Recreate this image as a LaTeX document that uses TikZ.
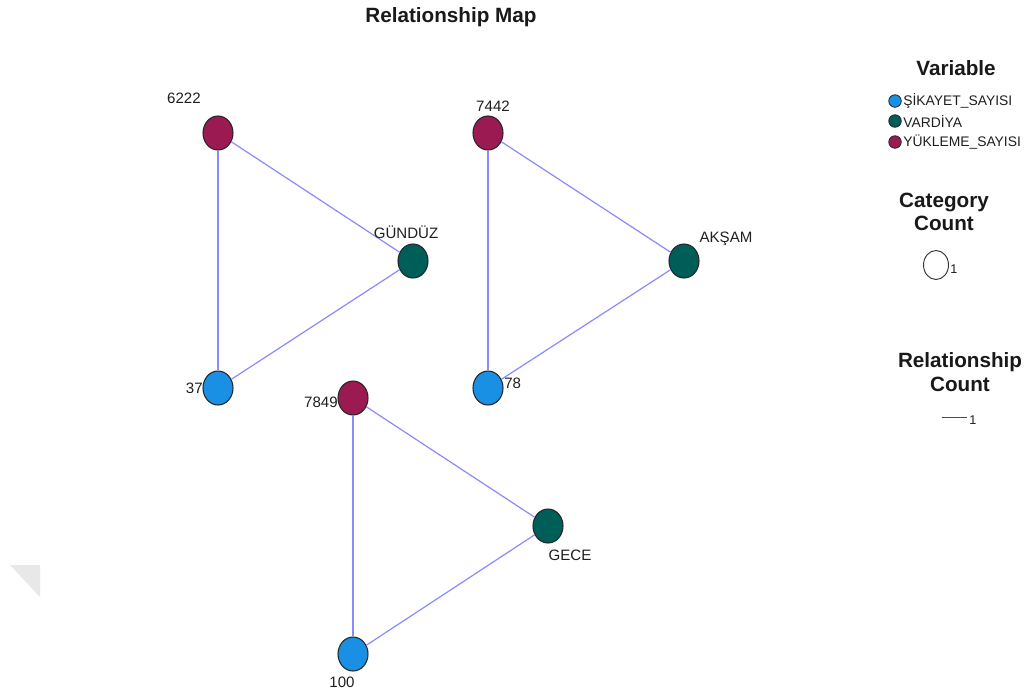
\documentclass[tikz,border=0pt]{standalone}
\usepackage{fontspec}
\setmainfont{Liberation Sans}
\usetikzlibrary{shapes.geometric}
\definecolor{shblue}{HTML}{1A90E4}
\definecolor{vteal}{HTML}{005E59}
\definecolor{ymaroon}{HTML}{9B1A52}
\definecolor{linkblue}{HTML}{8A8AFF}
\begin{document}
\begin{tikzpicture}[x=0.75pt,y=-0.75pt,
  catnode/.style={ellipse, draw=black!85, line width=0.8pt, minimum width=30*0.75pt, minimum height=34*0.75pt, inner sep=0pt},
  shikayet/.style={catnode, fill=shblue},
  vardiya/.style={catnode, fill=vteal},
  yukleme/.style={catnode, fill=ymaroon},
  link/.style={draw=linkblue, line width=0.9pt},
  lbl/.style={font=\fontsize{11.3pt}{13pt}\selectfont, text=black!88, inner sep=0pt},
  legtext/.style={font=\fontsize{10.4pt}{12pt}\selectfont, text=black!88, inner sep=0pt, anchor=west},
  legdot/.style={circle, draw=black!85, line width=0.6pt, minimum size=12.5*0.75pt, inner sep=0pt},
  heading/.style={font=\fontsize{15.5pt}{17.5pt}\selectfont\bfseries, text=black!90, inner sep=0pt, align=center}
]
\useasboundingbox (0,0) rectangle (1030,697);
\fill[white] (0,0) rectangle (1030,697);

% faint corner mark on the left margin
\fill[black!9] (10,565) -- (40,565) -- (40,597) -- cycle;

% title
\node[heading] (title) at (451,17) {Relationship Map};

% category nodes
\node[yukleme]  (y1) at (218,133) {};
\node[vardiya]  (v1) at (413,261) {};
\node[shikayet] (s1) at (218,388) {};

\node[yukleme]  (y2) at (488,133) {};
\node[vardiya]  (v2) at (684,261) {};
\node[shikayet] (s2) at (488,388) {};

\node[yukleme]  (y3) at (353,398) {};
\node[vardiya]  (v3) at (548,526) {};
\node[shikayet] (s3) at (353,654) {};

% relationships
\path[link] (y1) -- (v1);
\path[link] (y1) -- (s1);
\path[link] (v1) -- (s1);
\path[link] (y2) -- (v2);
\path[link] (y2) -- (s2);
\path[link] (v2) -- (s2);
\path[link] (y3) -- (v3);
\path[link] (y3) -- (s3);
\path[link] (v3) -- (s3);

% category labels
\node[lbl] (ly1) at (184,98) {6222};
\node[lbl] (lv1) at (406,232) {GÜNDÜZ};
\node[lbl, anchor=east] (ls1) at (203,388) {37};
\node[lbl] (ly2) at (493,106) {7442};
\node[lbl] (lv2) at (726,239) {AKŞAM};
\node[lbl, anchor=west] (ls2) at (504,383) {78};
\node[lbl, anchor=east] (ly3) at (338,402) {7849};
\node[lbl] (lv3) at (570,555) {GECE};
\node[lbl] (ls3) at (342,682) {100};

% legend: variable
\node[heading] (hvar) at (956,68) {Variable};
\node[legdot, fill=shblue]  (d1) at (895,101) {};
\node[legtext] (t1) at (903,101) {ŞİKAYET\_SAYISI};
\node[legdot, fill=vteal]   (d2) at (895,121) {};
\node[legtext] (t2) at (903,121) {VARDİYA};
\node[legdot, fill=ymaroon] (d3) at (895,142) {};
\node[legtext] (t3) at (903,142) {YÜKLEME\_SAYISI};

% legend: category count
\node[heading] (hcat) at (944,212) {Category\\Count};
\node[ellipse, draw=black!80, line width=0.7pt, minimum width=25*0.75pt, minimum height=29*0.75pt, inner sep=0pt] (cc) at (936,265) {};
\node[legtext, font=\fontsize{9.5pt}{11pt}\selectfont] (cc1) at (950,269) {1};

% legend: relationship count
\node[heading] (hrel) at (960,372) {Relationship\\Count};
\coordinate (ra) at (942,417);
\coordinate (rb) at (967,417);
\draw[black!70, line width=0.6pt] (ra) -- (rb);
\node[legtext, font=\fontsize{9.5pt}{11pt}\selectfont] (rc1) at (969,420) {1};
\end{tikzpicture}
\end{document}
